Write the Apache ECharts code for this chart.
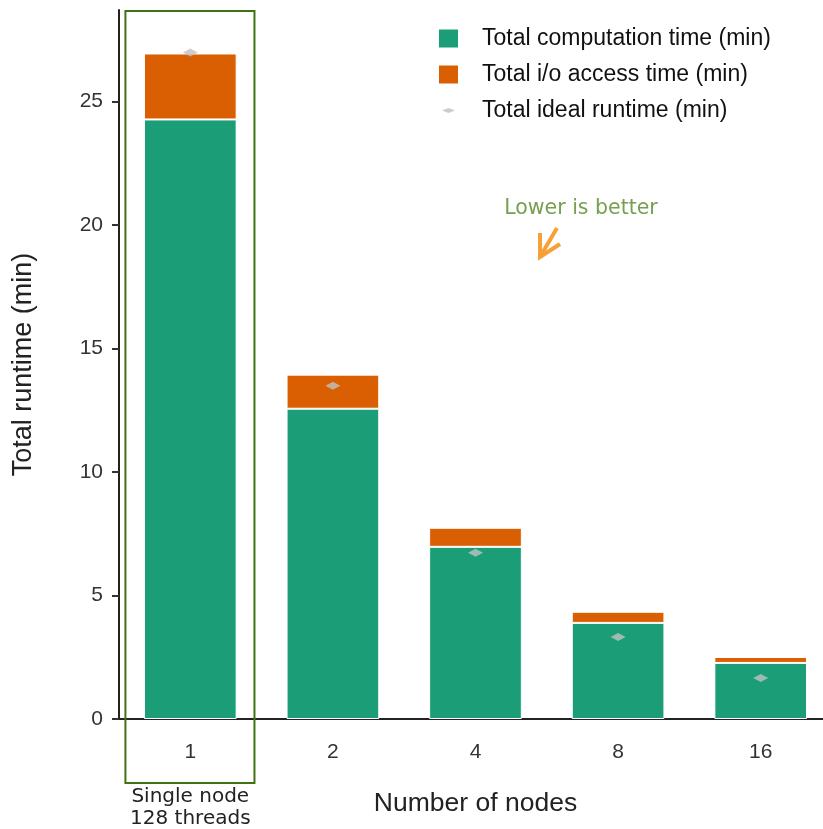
<!DOCTYPE html>
<html><head><meta charset="utf-8">
<script src="https://cdn.jsdelivr.net/npm/echarts@6/dist/echarts.min.js"></script>
<style>html,body{margin:0;padding:0;background:#fff}#c{width:823px;height:829px}</style>
</head><body><div id="c"></div>
<script>
const categories = ['1', '2', '4', '8', '16'];
const computeTime = [24.27, 12.56, 6.97, 3.89, 2.27];
const ioTime = [2.67, 1.38, 0.77, 0.45, 0.24];
const idealTime = [26.98, 13.49, 6.73, 3.32, 1.66];
const yTicks = [0, 5, 10, 15, 20, 25];

const chart = echarts.init(document.getElementById('c'));
const font = '"Liberation Sans", Arial, sans-serif';
const diamond = 'path://M0,5L8,0L16,5L8,10Z';
const legendDiamond = 'path://M0,0L0.05,0L0,0.05Z M42,42L41.95,42L42,41.95Z M7,21L21,15.5L35,21L21,26.5Z';
chart.setOption({
  animation: false,
  grid: { left: 119, right: -9, top: 10, bottom: 110, containLabel: false, outerBoundsMode: 'none' },
  legend: {
    orient: 'vertical', left: 432, top: 22, itemWidth: 21, itemHeight: 20, itemGap: 13,
    textStyle: { fontFamily: font, fontSize: 23, color: '#111', padding: [0, 0, 0, 18] },
    data: [
      { name: 'Total computation time (min)', icon: 'rect' },
      { name: 'Total i/o access time (min)', icon: 'rect' },
      { name: 'Total ideal runtime (min)', icon: legendDiamond, itemStyle: { color: '#c0c0c0' } }
    ]
  },
  xAxis: {
    type: 'category', data: categories,
    name: 'Number of nodes', nameLocation: 'middle', nameGap: 71,
    nameTextStyle: { fontFamily: font, fontSize: 26.5, color: '#222' },
    axisLine: { lineStyle: { color: '#222', width: 2 } },
    axisTick: { alignWithLabel: true, length: 7, lineStyle: { color: '#333', width: 2 } },
    axisLabel: { fontFamily: font, fontSize: 21, color: '#333', margin: 23 }
  },
  yAxis: {
    type: 'value', min: 0, max: 28.7, interval: 5,
    name: 'Total runtime (min)', nameLocation: 'middle', nameGap: 82,
    nameTextStyle: { fontFamily: font, fontSize: 27, color: '#222' },
    axisLine: { show: true, lineStyle: { color: '#222', width: 2 } },
    axisTick: { show: true, length: 7, customValues: yTicks, lineStyle: { color: '#333', width: 2 } },
    axisLabel: { fontFamily: font, fontSize: 21, color: '#333', margin: 16, customValues: yTicks },
    splitLine: { show: false }
  },
  series: [
    { name: 'Total computation time (min)', type: 'bar', stack: 't', data: computeTime, barWidth: '65%',
      itemStyle: { color: '#1b9e77', borderColor: '#fff', borderWidth: 1 } },
    { name: 'Total i/o access time (min)', type: 'bar', stack: 't', data: ioTime,
      itemStyle: { color: '#d95f02', borderColor: '#fff', borderWidth: 1 } },
    { name: 'Total ideal runtime (min)', type: 'scatter', data: idealTime, symbol: diamond,
      symbolSize: [15, 8], itemStyle: { color: '#c0c0c0' }, z: 5 }
  ]
});

// annotation: box around single-node category
const c0 = chart.convertToPixel({ xAxisIndex: 0 }, categories[0]);
const band = chart.convertToPixel({ xAxisIndex: 0 }, categories[1]) - c0;
const bx = c0 - band * 0.455;
const bw = band * 0.905;
chart.setOption({
  graphic: [
    { type: 'rect', shape: { x: bx, y: 11, width: bw, height: 772 },
      style: { fill: 'none', stroke: '#3f7212', lineWidth: 2 }, z: 10 },
    { type: 'text', x: c0, y: 786, style: { text: 'Single node\n128 threads', align: 'center', verticalAlign: 'top',
      font: '20px "DejaVu Sans", Verdana, sans-serif', fill: '#222', lineHeight: 22 } },
    { type: 'text', x: 581, y: 209, style: { text: 'Lower is better', align: 'center', verticalAlign: 'middle',
      font: '20.5px "DejaVu Sans", Verdana, sans-serif', fill: '#76a050' } },
    { type: 'polyline', shape: { points: [[557, 228], [540, 257]] }, style: { stroke: '#f7a035', lineWidth: 4, fill: 'none' } },
    { type: 'polyline', shape: { points: [[540, 233], [540, 257], [560, 244]] }, style: { stroke: '#f7a035', lineWidth: 4, fill: 'none' } }
  ]
});
</script></body></html>
